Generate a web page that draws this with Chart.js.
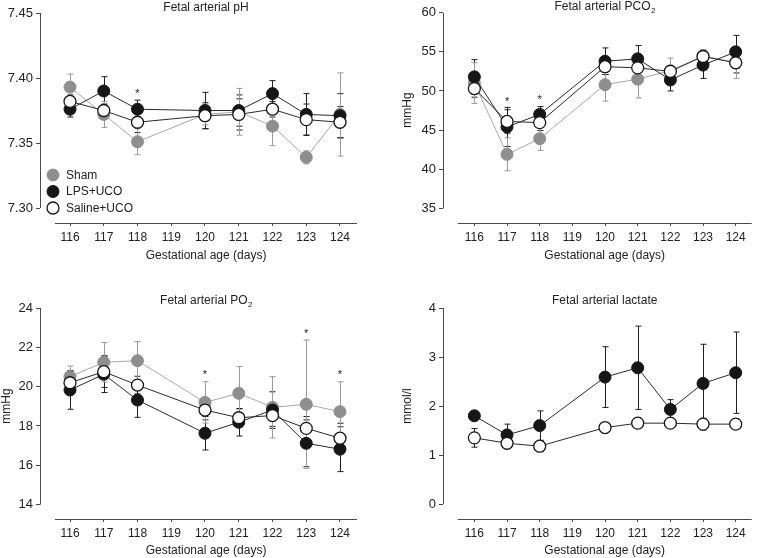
<!DOCTYPE html>
<html>
<head>
<meta charset="utf-8">
<script src="https://cdn.jsdelivr.net/npm/chart.js@4.4.1/dist/chart.umd.min.js"></script>
<style>
  html, body { margin: 0; padding: 0; background: #fff; }
  #wrap { position: relative; width: 759px; height: 558px; }
  #wrap canvas { position: absolute; }
</style>
</head>
<body>
<div id="wrap">
  <canvas id="c1" width="380" height="278" style="left:0;top:0"></canvas>
  <canvas id="c2" width="379" height="278" style="left:380px;top:0"></canvas>
  <canvas id="c3" width="380" height="280" style="left:0;top:278px"></canvas>
  <canvas id="c4" width="379" height="280" style="left:380px;top:278px"></canvas>
</div>
<script>
// gestational age (days) - no sample on day 119
const days = [116, 117, 118, 120, 121, 122, 123, 124];
const xTicks = [116, 117, 118, 119, 120, 121, 122, 123, 124];

// Fetal arterial pH
const phSham = [7.393, 7.372, 7.351, 7.372, 7.374, 7.363, 7.339, 7.372];
const phShamErr = [0.010, 0.010, 0.010, 0.008, 0.018, 0.015, 0.005, 0.032];
const phLps = [7.376, 7.390, 7.376, 7.375, 7.375, 7.388, 7.372, 7.371];
const phLpsErr = [0.006, 0.011, 0.007, 0.014, 0.012, 0.010, 0.016, 0.017];
const phSal = [7.382, 7.375, 7.366, 7.371, 7.372, 7.376, 7.368, 7.366];
const phSalErr = [0.005, 0.005, 0.008, 0.010, 0.012, 0.006, 0.012, 0.012];
const phTicks = [7.30, 7.35, 7.40, 7.45];
const phStars = [[118, 7.3895]];

// Fetal arterial PCO2 (mmHg)
const pco2Sham = [51.0, 41.9, 43.9, 50.8, 51.5, 52.6, 54.5, 53.6];
const pco2ShamErr = [2.6, 2.1, 1.5, 2.1, 2.4, 1.6, 0.8, 2.0];
const pco2Lps = [51.8, 45.4, 47.0, 53.8, 54.1, 51.4, 53.3, 55.0];
const pco2LpsErr = [2.2, 2.5, 1.0, 1.7, 1.7, 1.4, 1.7, 2.1];
const pco2Sal = [50.3, 46.1, 45.95, 53.1, 52.95, 52.5, 54.4, 53.6];
const pco2SalErr = [1.1, 1.5, 1.0, 1.0, 1.0, 0.5, 0.7, 1.3];
const pco2Ticks = [35, 40, 45, 50, 55, 60];
const pco2Stars = [[117, 48.9], [118, 49.15]];

// Fetal arterial PO2 (mmHg)
const po2Sham = [20.51, 21.24, 21.32, 19.2, 19.66, 18.95, 19.1, 18.73];
const po2ShamErr = [0.54, 1.0, 0.97, 1.05, 1.36, 1.56, 3.27, 1.52];
const po2Lps = [19.83, 20.63, 19.32, 17.63, 18.19, 18.81, 17.12, 16.82];
const po2LpsErr = [0.98, 0.93, 0.88, 0.85, 0.7, 0.93, 1.19, 1.14];
const po2Sal = [20.2, 20.76, 20.08, 18.81, 18.42, 18.53, 17.88, 17.38];
const po2SalErr = [0.6, 0.8, 0.45, 0.5, 0.45, 0.55, 0.6, 0.76];
const po2Ticks = [14, 16, 18, 20, 22, 24];
const po2Stars = [[120, 20.71], [123, 22.8], [124, 20.71]];

// Fetal arterial lactate (mmol/l) - no sham group
const lacLps = [1.80, 1.41, 1.60, 2.59, 2.78, 1.93, 2.46, 2.68];
const lacLpsErr = [0.05, 0.22, 0.30, 0.62, 0.85, 0.20, 0.80, 0.83];
const lacSal = [1.35, 1.24, 1.18, 1.56, 1.65, 1.65, 1.63, 1.63];
const lacSalErr = [0.19, 0.06, 0.11, 0.03, 0.10, 0.05, 0.12, 0.10];
const lacTicks = [0, 1, 2, 3, 4];

const FONT = "'Liberation Sans', Arial, sans-serif";
const INK = '#222';
const AXIS = '#4a4a4a';

function pts(vals) {
  return vals.map((v, i) => ({ x: days[i], y: v }));
}

function sham(vals, err) {
  return { label: 'Sham', data: pts(vals), err: err, errColor: '#9a9a9a', order: 3,
    borderColor: '#a8a8a8', backgroundColor: '#8e8e8e', pointBorderColor: '#8e8e8e',
    borderWidth: 1, pointRadius: 6, pointBorderWidth: 1 };
}
function lps(vals, err) {
  return { label: 'LPS+UCO', data: pts(vals), err: err, errColor: '#1e1e1e', order: 2,
    borderColor: '#2a2a2a', backgroundColor: '#161616', pointBorderColor: '#161616',
    borderWidth: 1, pointRadius: 6, pointBorderWidth: 1 };
}
function saline(vals, err) {
  return { label: 'Saline+UCO', data: pts(vals), err: err, errColor: '#1e1e1e', order: 1,
    borderColor: '#2a2a2a', backgroundColor: '#ffffff', pointBorderColor: '#161616',
    borderWidth: 1, pointRadius: 6, pointBorderWidth: 1.3 };
}

const figPlugin = {
  id: 'fig',
  beforeDatasetsDraw(chart) {
    const { ctx, scales: { x, y } } = chart;
    chart.data.datasets.forEach(ds => {
      ctx.save();
      ctx.strokeStyle = ds.errColor;
      ctx.lineWidth = 1;
      ds.data.forEach((p, i) => {
        const e = ds.err[i];
        const px = Math.round(x.getPixelForValue(p.x)) + 0.5;
        const y1 = y.getPixelForValue(p.y + e);
        const y2 = y.getPixelForValue(p.y - e);
        ctx.beginPath();
        ctx.moveTo(px, y1); ctx.lineTo(px, y2);
        ctx.moveTo(px - 3, y1); ctx.lineTo(px + 3, y1);
        ctx.moveTo(px - 3, y2); ctx.lineTo(px + 3, y2);
        ctx.stroke();
      });
      ctx.restore();
    });
  },
  afterDraw(chart, args, o) {
    const { ctx, chartArea: a, scales: { x, y } } = chart;
    ctx.save();
    // detached axis lines
    ctx.strokeStyle = AXIS;
    ctx.lineWidth = 1;
    ctx.beginPath();
    const yl = Math.round(a.left) + 0.5;
    ctx.moveTo(yl, y.getPixelForValue(o.yTicks[o.yTicks.length - 1]));
    ctx.lineTo(yl, y.getPixelForValue(o.yTicks[0]));
    const xb = Math.round(a.bottom) + 0.5;
    ctx.moveTo(x.getPixelForValue(o.xLineStart), xb);
    ctx.lineTo(a.right, xb);
    ctx.stroke();

    ctx.fillStyle = INK;
    ctx.textBaseline = 'middle';
    const cx = (x.getPixelForValue(o.xLineStart) + a.right) / 2;

    // panel title (with subscript)
    ctx.font = '12px ' + FONT;
    const w1 = ctx.measureText(o.title).width;
    let w2 = 0;
    if (o.sub) { ctx.font = '8px ' + FONT; w2 = ctx.measureText(o.sub).width; }
    const tx = cx - (w1 + w2) / 2;
    ctx.textAlign = 'left';
    ctx.font = '12px ' + FONT;
    ctx.fillText(o.title, tx, o.titleY);
    if (o.sub) { ctx.font = '8px ' + FONT; ctx.fillText(o.sub, tx + w1 + 0.5, o.titleY + 4); }

    // x axis title
    ctx.font = '12px ' + FONT;
    ctx.textAlign = 'center';
    ctx.fillText('Gestational age (days)', cx, o.xTitleY);

    // y axis title
    if (o.yTitle) {
      ctx.save();
      ctx.translate(o.yTitleX, o.yTitleY);
      ctx.rotate(-Math.PI / 2);
      ctx.fillText(o.yTitle, 0, 0);
      ctx.restore();
    }

    // significance markers
    ctx.font = '11px ' + FONT;
    (o.stars || []).forEach(s => {
      ctx.fillText('*', x.getPixelForValue(s[0]), y.getPixelForValue(s[1]) + 2);
    });

    // legend
    if (o.legend) {
      ctx.textAlign = 'left';
      ctx.font = '12px ' + FONT;
      const list = chart.data.datasets.slice().sort((p, q) => q.order - p.order);
      list.forEach((ds, i) => {
        const ly = o.legend.y + i * o.legend.gap;
        ctx.beginPath();
        ctx.arc(o.legend.x, ly, 6, 0, Math.PI * 2);
        ctx.fillStyle = ds.backgroundColor;
        ctx.fill();
        ctx.lineWidth = ds.pointBorderWidth;
        ctx.strokeStyle = ds.pointBorderColor;
        ctx.stroke();
        ctx.fillStyle = INK;
        ctx.fillText(ds.label, o.legend.x + 13, ly + 0.5);
      });
    }
    ctx.restore();
  }
};

function makePanel(id, p) {
  const canvas = document.getElementById(id);
  const W = canvas.width, H = canvas.height;
  const [L, T, R, B] = p.area;
  new Chart(canvas.getContext('2d'), {
    type: 'line',
    data: { datasets: p.datasets },
    plugins: [figPlugin],
    options: {
      responsive: false,
      animation: false,
      clip: false,
      layout: { padding: { left: 0, top: T, right: W - R, bottom: 0 } },
      plugins: { legend: { display: false }, tooltip: { enabled: false }, title: { display: false }, fig: p },
      scales: {
        x: {
          type: 'linear', min: p.xMin, max: p.xMax,
          afterBuildTicks: s => { s.ticks = xTicks.map(v => ({ value: v })); },
          afterFit: s => { s.height = H - B; },
          border: { display: false },
          grid: { drawOnChartArea: false, drawTicks: true, tickLength: 3, color: AXIS },
          ticks: { color: INK, font: { family: FONT, size: 12 }, padding: 4, maxRotation: 0, autoSkip: false,
                   callback: v => String(v) }
        },
        y: {
          type: 'linear', min: p.yMin, max: p.yMax,
          afterBuildTicks: s => { s.ticks = p.yTicks.map(v => ({ value: v })); },
          afterFit: s => { s.width = L; },
          border: { display: false },
          grid: { drawOnChartArea: false, drawTicks: true, tickLength: 4, color: AXIS },
          ticks: { color: INK, font: { family: FONT, size: 13 }, padding: 3, autoSkip: false,
                   callback: v => v.toFixed(p.yDec) }
        }
      },
      datasets: { line: { clip: false, tension: 0, spanGaps: true } }
    }
  });
}

makePanel('c1', {
  area: [40, 13, 357, 223], xMin: 115.111, xMax: 124.504, xLineStart: 115.556,
  yMin: 7.2885, yMax: 7.45, yTicks: phTicks, yDec: 2,
  title: 'Fetal arterial pH', titleY: 8, xTitleY: 256,
  stars: phStars, legend: { x: 53, y: 175, gap: 16.5 },
  datasets: [saline(phSal, phSalErr), lps(phLps, phLpsErr), sham(phSham, phShamErr)]
});

makePanel('c2', {
  area: [63, 12.7, 378, 223], xMin: 115.04, xMax: 124.49, xLineStart: 115.49,
  yMin: 33.12, yMax: 60, yTicks: pco2Ticks, yDec: 0,
  title: 'Fetal arterial PCO', sub: '2', titleY: 7, xTitleY: 256,
  yTitle: 'mmHg', yTitleX: 28, yTitleY: 110,
  stars: pco2Stars,
  datasets: [saline(pco2Sal, pco2SalErr), lps(pco2Lps, pco2LpsErr), sham(pco2Sham, pco2ShamErr)]
});

makePanel('c3', {
  area: [40, 30, 357, 241], xMin: 115.111, xMax: 124.504, xLineStart: 115.556,
  yMin: 13.27, yMax: 24, yTicks: po2Ticks, yDec: 0,
  title: 'Fetal arterial PO', sub: '2', titleY: 23, xTitleY: 273,
  yTitle: 'mmHg', yTitleX: 7, yTitleY: 128,
  stars: po2Stars,
  datasets: [saline(po2Sal, po2SalErr), lps(po2Lps, po2LpsErr), sham(po2Sham, po2ShamErr)]
});

makePanel('c4', {
  area: [63, 30, 378, 241], xMin: 115.04, xMax: 124.49, xLineStart: 115.49,
  yMin: -0.306, yMax: 4, yTicks: lacTicks, yDec: 0,
  title: 'Fetal arterial lactate', titleY: 23, xTitleY: 273,
  yTitle: 'mmol/l', yTitleX: 28, yTitleY: 128,
  datasets: [saline(lacSal, lacSalErr), lps(lacLps, lacLpsErr)]
});
</script>
</body>
</html>
